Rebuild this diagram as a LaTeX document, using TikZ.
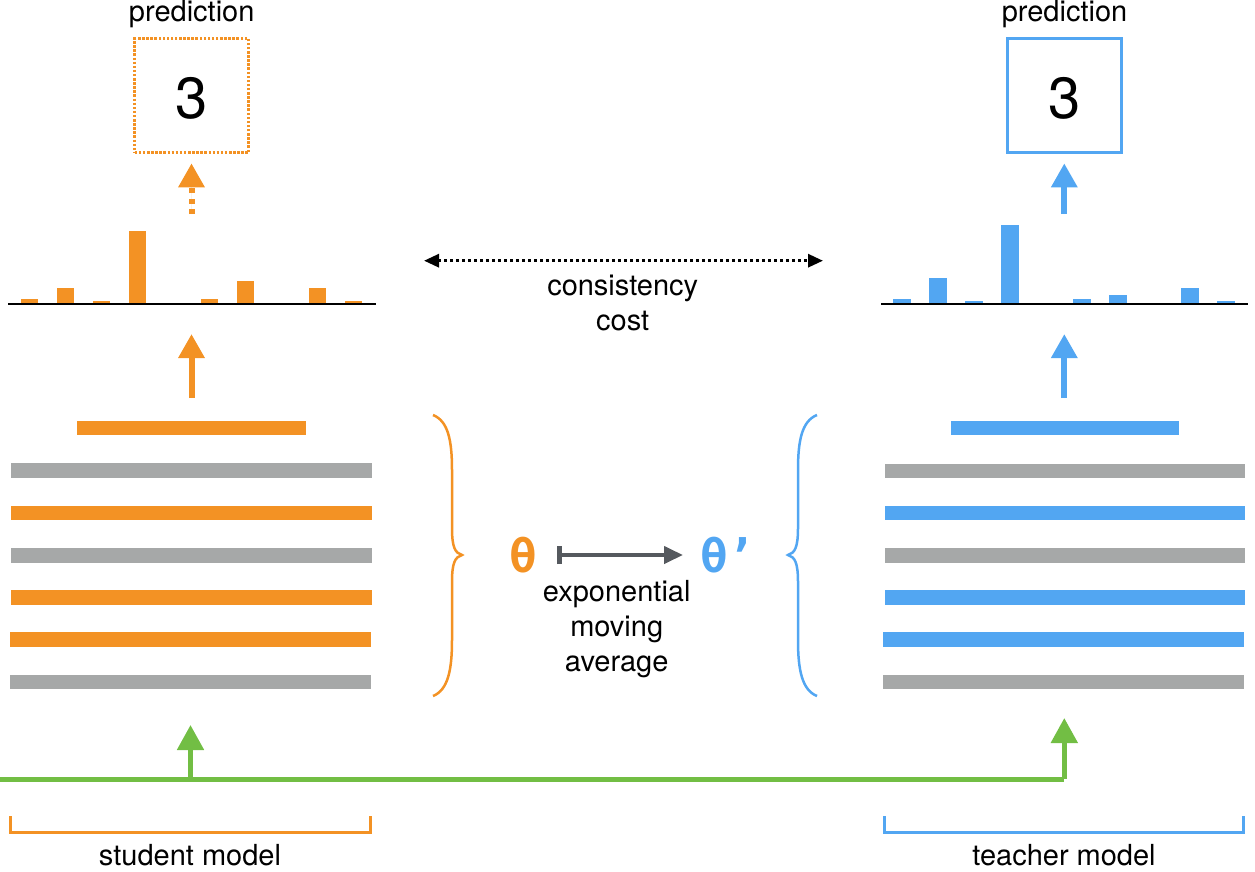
\documentclass[tikz,border=0pt]{standalone}
\usepackage{fontspec}
\setmainfont{TeX Gyre Heros}
\newfontfamily\thetafont{DejaVu Sans Mono}
\usetikzlibrary{arrows.meta}
\definecolor{cOrange}{RGB}{243,146,36}
\definecolor{cBlue}{RGB}{82,166,242}
\definecolor{cGray}{RGB}{166,168,168}
\definecolor{cGreen}{RGB}{114,190,68}
\definecolor{cSlate}{RGB}{85,89,94}
\begin{document}
\begin{tikzpicture}[x=1pt,y=-1pt,
  lbl/.style={font=\fontsize{29}{35}\selectfont, inner sep=0pt, anchor=base, align=center},
  digit/.style={font=\fontsize{58}{60}\selectfont, inner sep=0pt},
  theta/.style={font=\thetafont\bfseries\fontsize{46}{48}\selectfont, inner sep=0pt},
  predbox/.style={minimum width=114pt, minimum height=114pt, line width=2.7pt, inner sep=0pt},
  uparrow/.style={line width=6pt, -{Triangle[length=24pt,width=25pt]}},
  greenarrow/.style={line width=5pt, draw=cGreen, -{Triangle[length=25pt,width=26pt]}},
  costarrow/.style={line width=3pt, dash pattern=on 3pt off 3pt, {Triangle[length=15pt,width=13pt]}-{Triangle[length=15pt,width=13pt]}},
  emaarrow/.style={line width=4pt, draw=cSlate, {Bar[width=18pt,line width=5pt]}-{Triangle[length=19pt,width=17pt]}},
  bracestyle/.style={line width=2.5pt},
  bracket/.style={line width=3pt},
  base/.style={line width=2pt, draw=black}
]
\useasboundingbox (0,0) rectangle (1255,872);

% ---------------- student (left) ----------------
\node[lbl] (spredlbl) at (191.7,21.7) {prediction};
\node[predbox, draw=cOrange, dash pattern=on 2.5pt off 1.6pt] (spred) at (191.7,95.8) {};
\node[digit] (sdigit) at (191.7,98) {3};
\coordinate (sdot0) at (191.5,214);
\coordinate (sdot1) at (191.5,163.3);
\draw[uparrow, draw=cOrange, fill=cOrange, dash pattern=on 5pt off 5.5pt] (sdot0) -- (sdot1);

% histogram
\foreach \i/\t in {0/298.7,1/287.7,2/301,3/230.7,5/298.7,6/280.7,8/287.7,9/301}
  \fill[cOrange] (20.7+36*\i,304.3) rectangle (37.7+36*\i,\t);
\coordinate (shl) at (8,304.3);
\coordinate (shr) at (376,304.3);
\draw[base] (shl) -- (shr);

\coordinate (sarr0) at (191.5,398);
\coordinate (sarr1) at (191.5,334);
\draw[uparrow, draw=cOrange, fill=cOrange] (sarr0) -- (sarr1);

% layers
\node[fill=cOrange, minimum width=229pt, minimum height=14pt, inner sep=0pt] (stop) at (191.5,428) {};
\fill[cGray]   (11,463) rectangle (372,478);
\fill[cOrange] (11,506) rectangle (372,520);
\fill[cGray]   (11,548) rectangle (372,563);
\fill[cOrange] (11,590) rectangle (372,605);
\fill[cOrange] (10,632) rectangle (371,647);
\fill[cGray]   (10,675) rectangle (371,689);

% ---------------- teacher (right) ----------------
\node[lbl] (tpredlbl) at (1064.5,21.7) {prediction};
\node[predbox, draw=cBlue] (tpred) at (1064.7,95.8) {};
\node[digit] (tdigit) at (1064.7,98) {3};
\coordinate (tpa0) at (1064.3,214);
\coordinate (tpa1) at (1064.3,163.3);
\draw[uparrow, draw=cBlue, fill=cBlue] (tpa0) -- (tpa1);

\foreach \i/\t in {0/298.7,1/278.3,2/301,3/225.3,5/298.7,6/295,8/287.7,9/301}
  \fill[cBlue] (893.3+36*\i,304.3) rectangle (910.6+36*\i,\t);
\coordinate (thl) at (881,304.3);
\coordinate (thr) at (1248,304.3);
\draw[base] (thl) -- (thr);

\coordinate (tarr0) at (1064.3,398);
\coordinate (tarr1) at (1064.3,334);
\draw[uparrow, draw=cBlue, fill=cBlue] (tarr0) -- (tarr1);

\node[fill=cBlue, minimum width=228pt, minimum height=14pt, inner sep=0pt] (ttop) at (1065,428) {};
\fill[cGray] (885,464) rectangle (1245,478);
\fill[cBlue] (885,506) rectangle (1245,520);
\fill[cGray] (885,548) rectangle (1245,563);
\fill[cBlue] (885,590) rectangle (1245,605);
\fill[cBlue] (883,632) rectangle (1244,647);
\fill[cGray] (883,675) rectangle (1244,689);

% ---------------- consistency cost ----------------
\coordinate (cl) at (424,260.7);
\coordinate (cr) at (823,260.7);
\draw[costarrow] (cl) -- (cr);
\node[lbl] (cons) at (622.7,295.3) {consistency};
\node[lbl] (cost) at (622.7,330.5) {cost};

% ---------------- braces ----------------
\draw[bracestyle, cOrange] (433,415) .. controls (448,421) and (452,440) .. (452,470)
  -- (452,528) .. controls (452,547) and (455,553) .. (462,555)
  .. controls (455,557) and (452,563) .. (452,582)
  -- (452,640) .. controls (452,670) and (448,690) .. (433,696);
\draw[bracestyle, cBlue] (817,415) .. controls (802,421) and (798,440) .. (798,470)
  -- (798,528) .. controls (798,547) and (795,553) .. (788,555)
  .. controls (795,557) and (798,563) .. (798,582)
  -- (798,640) .. controls (798,670) and (802,690) .. (817,696);

% ---------------- EMA ----------------
\node[theta, text=cOrange] (th) at (523.3,555) {θ};
\node[theta, text=cBlue, anchor=west] (thp) at (700,555) {θ’};
\coordinate (ema0) at (557,555);
\coordinate (ema1) at (683,555);
\draw[emaarrow] (ema0) -- (ema1);
\node[lbl] (exp) at (616.7,601.7) {exponential};
\node[lbl] (mov) at (616.7,636.7) {moving};
\node[lbl] (avg) at (616.7,671.7) {average};

% ---------------- input (green) ----------------
\coordinate (gin) at (0,779);
\coordinate (gs) at (190.5,779);
\coordinate (gsTip) at (190.5,725);
\coordinate (gt) at (1064.3,779);
\coordinate (gtTip) at (1064.3,718);
\draw[line width=5pt, draw=cGreen] (gin) -- (gt);
\draw[greenarrow] (gs) -- (gsTip);
\draw[greenarrow] (gt) -- (gtTip);

% ---------------- bottom brackets ----------------
\coordinate (sb0) at (10,816);
\coordinate (sb1) at (370,816);
\draw[bracket, cOrange] (sb0) -- ++(0,16) -| (sb1);
\coordinate (tb0) at (884,816);
\coordinate (tb1) at (1243,816);
\draw[bracket, cBlue] (tb0) -- ++(0,16) -| (tb1);
\node[lbl] (slbl) at (190,865) {student model};
\node[lbl] (tlbl) at (1064,865) {teacher model};
\end{tikzpicture}
\end{document}
